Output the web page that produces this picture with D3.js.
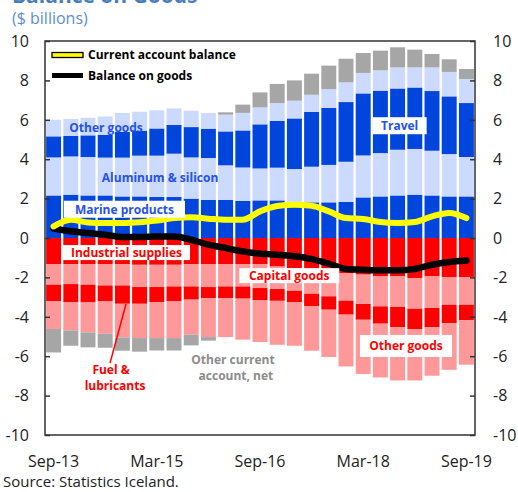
<!DOCTYPE html>
<html><head><meta charset="utf-8">
<script src="https://cdn.jsdelivr.net/npm/d3@7"></script>
<style>body{margin:0;background:#fff;} text{font-family:"Open Sans",sans-serif;}</style>
</head><body>
<script>
const quarters = ["Sep-13","Dec-13","Mar-14","Jun-14","Sep-14","Dec-14","Mar-15","Jun-15","Sep-15","Dec-15","Mar-16","Jun-16","Sep-16","Dec-16","Mar-17","Jun-17","Sep-17","Dec-17","Mar-18","Jun-18","Sep-18","Dec-18","Mar-19","Jun-19","Sep-19"];
const xTickLabels = ["Sep-13","Mar-15","Sep-16","Mar-18","Sep-19"];
const yTicks = [-10,-8,-6,-4,-2,0,2,4,6,8,10];

// exports (positive)
const marineProducts = [2.16,2.20,2.16,2.16,2.11,2.11,2.08,2.08,2.00,1.94,1.94,1.89,1.91,1.91,1.81,1.81,1.81,1.84,2.06,2.11,2.16,2.20,2.16,2.11,2.11];
const aluminumSilicon = [1.93,1.94,1.95,1.92,1.97,2.07,2.10,2.20,2.09,2.12,1.75,1.69,1.62,1.66,1.69,1.81,1.90,2.03,2.13,2.20,2.32,2.32,2.27,2.15,2.00];
const travel = [1.07,1.05,1.10,1.16,1.30,1.27,1.38,1.46,1.54,1.49,1.72,1.88,2.24,2.38,2.57,2.78,2.90,3.03,3.15,3.17,3.11,3.12,3.03,2.93,2.74];
const otherGoodsExports = [0.84,0.85,0.89,0.93,0.97,0.96,0.92,0.84,0.83,0.80,0.85,0.89,0.86,0.90,0.90,0.87,0.95,1.00,1.04,1.03,1.07,1.02,1.20,1.24,1.22];
// imports (negative)
const industrialSupplies = [-1.32,-1.32,-1.32,-1.32,-1.32,-1.36,-1.36,-1.36,-1.32,-1.32,-1.32,-1.32,-1.32,-1.45,-1.55,-1.65,-1.75,-1.80,-1.86,-1.95,-1.95,-2.03,-1.95,-1.98,-1.98];
const capitalGoods = [-1.05,-1.02,-1.05,-1.09,-1.09,-1.13,-1.13,-1.10,-1.14,-1.17,-1.14,-1.14,-1.22,-1.14,-1.13,-1.18,-1.21,-1.38,-1.49,-1.52,-1.55,-1.56,-1.60,-1.41,-1.41];
const fuelLubricants = [-0.83,-0.93,-0.90,-0.81,-0.93,-0.85,-0.76,-0.76,-0.67,-0.56,-0.59,-0.62,-0.63,-0.60,-0.59,-0.64,-0.68,-0.71,-0.80,-0.88,-1.02,-1.03,-0.97,-0.93,-0.79];
const otherGoodsImports = [-1.42,-1.42,-1.52,-1.64,-1.71,-1.74,-1.83,-1.86,-1.78,-1.98,-1.98,-2.08,-2.11,-2.23,-2.20,-2.25,-2.40,-2.63,-2.75,-2.73,-2.71,-2.61,-2.47,-2.37,-2.25];
// other current account, net
const otherCurrentNet = [-1.19,-0.78,-0.76,-0.71,-0.67,-0.69,-0.63,-0.63,-0.54,-0.18,0.12,0.42,0.76,0.97,1.03,1.07,1.19,1.20,1.01,1.00,1.02,0.90,0.68,0.64,0.51];
// lines
const currentAccountBalance = [0.59,0.93,0.79,0.76,0.76,0.80,0.89,1.01,1.05,0.98,0.93,0.93,1.35,1.62,1.69,1.64,1.35,1.01,0.96,0.81,0.76,0.81,1.10,1.27,1.01];
const balanceOnGoods = [0.48,0.34,0.25,0.17,0.05,0.05,0.08,0.08,-0.09,-0.34,-0.51,-0.68,-0.80,-0.85,-0.93,-1.07,-1.30,-1.57,-1.61,-1.64,-1.64,-1.57,-1.36,-1.22,-1.14];

const DARK_BLUE = "#0046DD", LIGHT_BLUE = "#CCDAFF", RED = "#FF0000", SALMON = "#FF9999", GRAY = "#A6A6A6";
const seriesDefs = [
  {key:"marine", values: marineProducts, color: DARK_BLUE},
  {key:"aluminum", values: aluminumSilicon, color: LIGHT_BLUE},
  {key:"travel", values: travel, color: DARK_BLUE},
  {key:"otherX", values: otherGoodsExports, color: LIGHT_BLUE},
  {key:"industrial", values: industrialSupplies, color: RED},
  {key:"capital", values: capitalGoods, color: SALMON},
  {key:"fuel", values: fuelLubricants, color: RED},
  {key:"otherM", values: otherGoodsImports, color: SALMON},
  {key:"otherCA", values: otherCurrentNet, color: GRAY}
];

const W = 518, H = 492;
const svg = d3.select("body").append("svg").attr("width", W).attr("height", H);

const x = d3.scaleBand().domain(quarters).range([45, 475]).paddingInner(0.13).paddingOuter(0.065);
const y = d3.scaleLinear().domain([-10, 10]).range([435, 41]);
const xc = i => x(quarters[0]) + x.bandwidth()/2 + i * x.step();

const rows = quarters.map((q, i) => {
  const r = {q};
  seriesDefs.forEach(s => r[s.key] = s.values[i]);
  return r;
});
const stacked = d3.stack().keys(seriesDefs.map(s => s.key)).offset(d3.stackOffsetDiverging)(rows);

svg.append("g").selectAll("g").data(stacked).join("g")
  .attr("fill", (d, i) => seriesDefs[i].color)
  .selectAll("rect").data(d => d).join("rect")
  .attr("x", d => x(d.data.q))
  .attr("width", x.bandwidth())
  .attr("y", d => y(Math.max(d[0], d[1])))
  .attr("height", d => Math.abs(y(d[0]) - y(d[1])));

// lines
const line = d3.line().x((d, i) => xc(i)).y(d => y(d)).curve(d3.curveMonotoneX);
svg.append("path").datum(balanceOnGoods).attr("d", line).attr("fill", "none")
  .attr("stroke", "#000").attr("stroke-width", 6.5).attr("stroke-linecap", "round");
svg.append("path").datum(currentAccountBalance).attr("d", line).attr("fill", "none")
  .attr("stroke", "#FFFF00").attr("stroke-width", 6).attr("stroke-linecap", "round");

// annotations (positioned in data space)
function boxLabel(text, i, v, color, bw, bh, box) {
  const cx = xc(i), cy = y(v);
  if (box) svg.append("rect").attr("x", cx - bw/2).attr("y", cy - bh/2).attr("width", bw).attr("height", bh).attr("fill", "#fff");
  svg.append("text").attr("x", cx).attr("y", cy).attr("dy", "0.36em").attr("text-anchor", "middle")
    .attr("font-size", 12).attr("font-weight", "bold").attr("fill", color).text(text);
}
const BLUE_TXT = "#2452E8";
boxLabel("Other goods", 3.05, 5.61, BLUE_TXT, 0, 0, false);
boxLabel("Aluminum & silicon", 6.19, 3.06, BLUE_TXT, 0, 0, false);
boxLabel("Marine products", 4.12, 1.46, BLUE_TXT, 121, 17, true);
boxLabel("Travel", 20.12, 5.70, BLUE_TXT, 54, 17, true);
boxLabel("Industrial supplies", 4.24, -0.74, RED, 127, 15, true);
boxLabel("Capital goods", 13.7, -1.91, RED, 100, 15, true);
boxLabel("Other goods", 20.49, -5.48, RED, 92, 22, true);

// fuel & lubricants leader line
svg.append("line").attr("x1", xc(3.28)).attr("y1", y(-6.35)).attr("x2", xc(4.21)).attr("y2", y(-3.35))
  .attr("stroke", RED).attr("stroke-width", 1.5);
boxLabel("Fuel &", 3.34, -6.70, RED, 0, 0, false);
boxLabel("lubricants", 3.57, -7.50, RED, 0, 0, false);
boxLabel("Other current", 10.43, -6.19, "#8C8C8C", 0, 0, false);
boxLabel("account, net", 10.6, -6.99, "#8C8C8C", 0, 0, false);

// frame
svg.append("rect").attr("x", 45).attr("y", 41).attr("width", 430).attr("height", 394)
  .attr("fill", "none").attr("stroke", "#333").attr("stroke-width", 1.5);

// inward ticks, left and right
const leftAxis = d3.axisRight(y).tickValues(yTicks).tickSize(5).tickFormat("");
const rightAxis = d3.axisLeft(y).tickValues(yTicks).tickSize(5).tickFormat("");
const gl = svg.append("g").attr("transform", "translate(45,0)").call(leftAxis);
const gr = svg.append("g").attr("transform", "translate(475,0)").call(rightAxis);
[gl, gr].forEach(g => { g.select(".domain").remove(); g.selectAll("line").attr("stroke", "#333").attr("stroke-width", 1.5); });

// tick labels
svg.append("g").selectAll("text").data(yTicks).join("text")
  .attr("x", 29).attr("y", d => y(d)).attr("dy", "0.36em").attr("text-anchor", "end")
  .attr("font-size", 16).attr("fill", "#222").text(d => d);
svg.append("g").selectAll("text").data(yTicks).join("text")
  .attr("x", 493).attr("y", d => y(d)).attr("dy", "0.36em").attr("text-anchor", "start")
  .attr("font-size", 16).attr("fill", "#222").text(d => d);
svg.append("g").selectAll("text").data(xTickLabels).join("text")
  .attr("x", d => x(d) + x.bandwidth()/2).attr("y", 467).attr("text-anchor", "middle")
  .attr("font-size", 16).attr("fill", "#222").text(d => d);

// legend
svg.append("rect").attr("x", 52).attr("y", 52.5).attr("width", 31).attr("height", 5)
  .attr("fill", "#FFFF00").attr("stroke", "#000").attr("stroke-width", 1.3);
svg.append("text").attr("x", 88).attr("y", 55).attr("dy", "0.36em").attr("font-size", 12)
  .attr("font-weight", "bold").attr("fill", "#000").text("Current account balance");
svg.append("line").attr("x1", 52).attr("x2", 83).attr("y1", 75.5).attr("y2", 75.5)
  .attr("stroke", "#000").attr("stroke-width", 5);
svg.append("text").attr("x", 88).attr("y", 75.5).attr("dy", "0.36em").attr("font-size", 12)
  .attr("font-weight", "bold").attr("fill", "#000").text("Balance on goods");

// titles
svg.append("text").attr("x", 12).attr("y", 3).attr("font-size", 21).attr("font-weight", "bold")
  .attr("fill", "#4A7EBB").text("Balance on Goods");
svg.append("text").attr("x", 12).attr("y", 24).attr("font-size", 16)
  .attr("fill", "#5D8FCF").text("($ billions)");
svg.append("text").attr("x", 3).attr("y", 487).attr("font-size", 15)
  .attr("fill", "#222").text("Source: Statistics Iceland.");
</script>
</body></html>
